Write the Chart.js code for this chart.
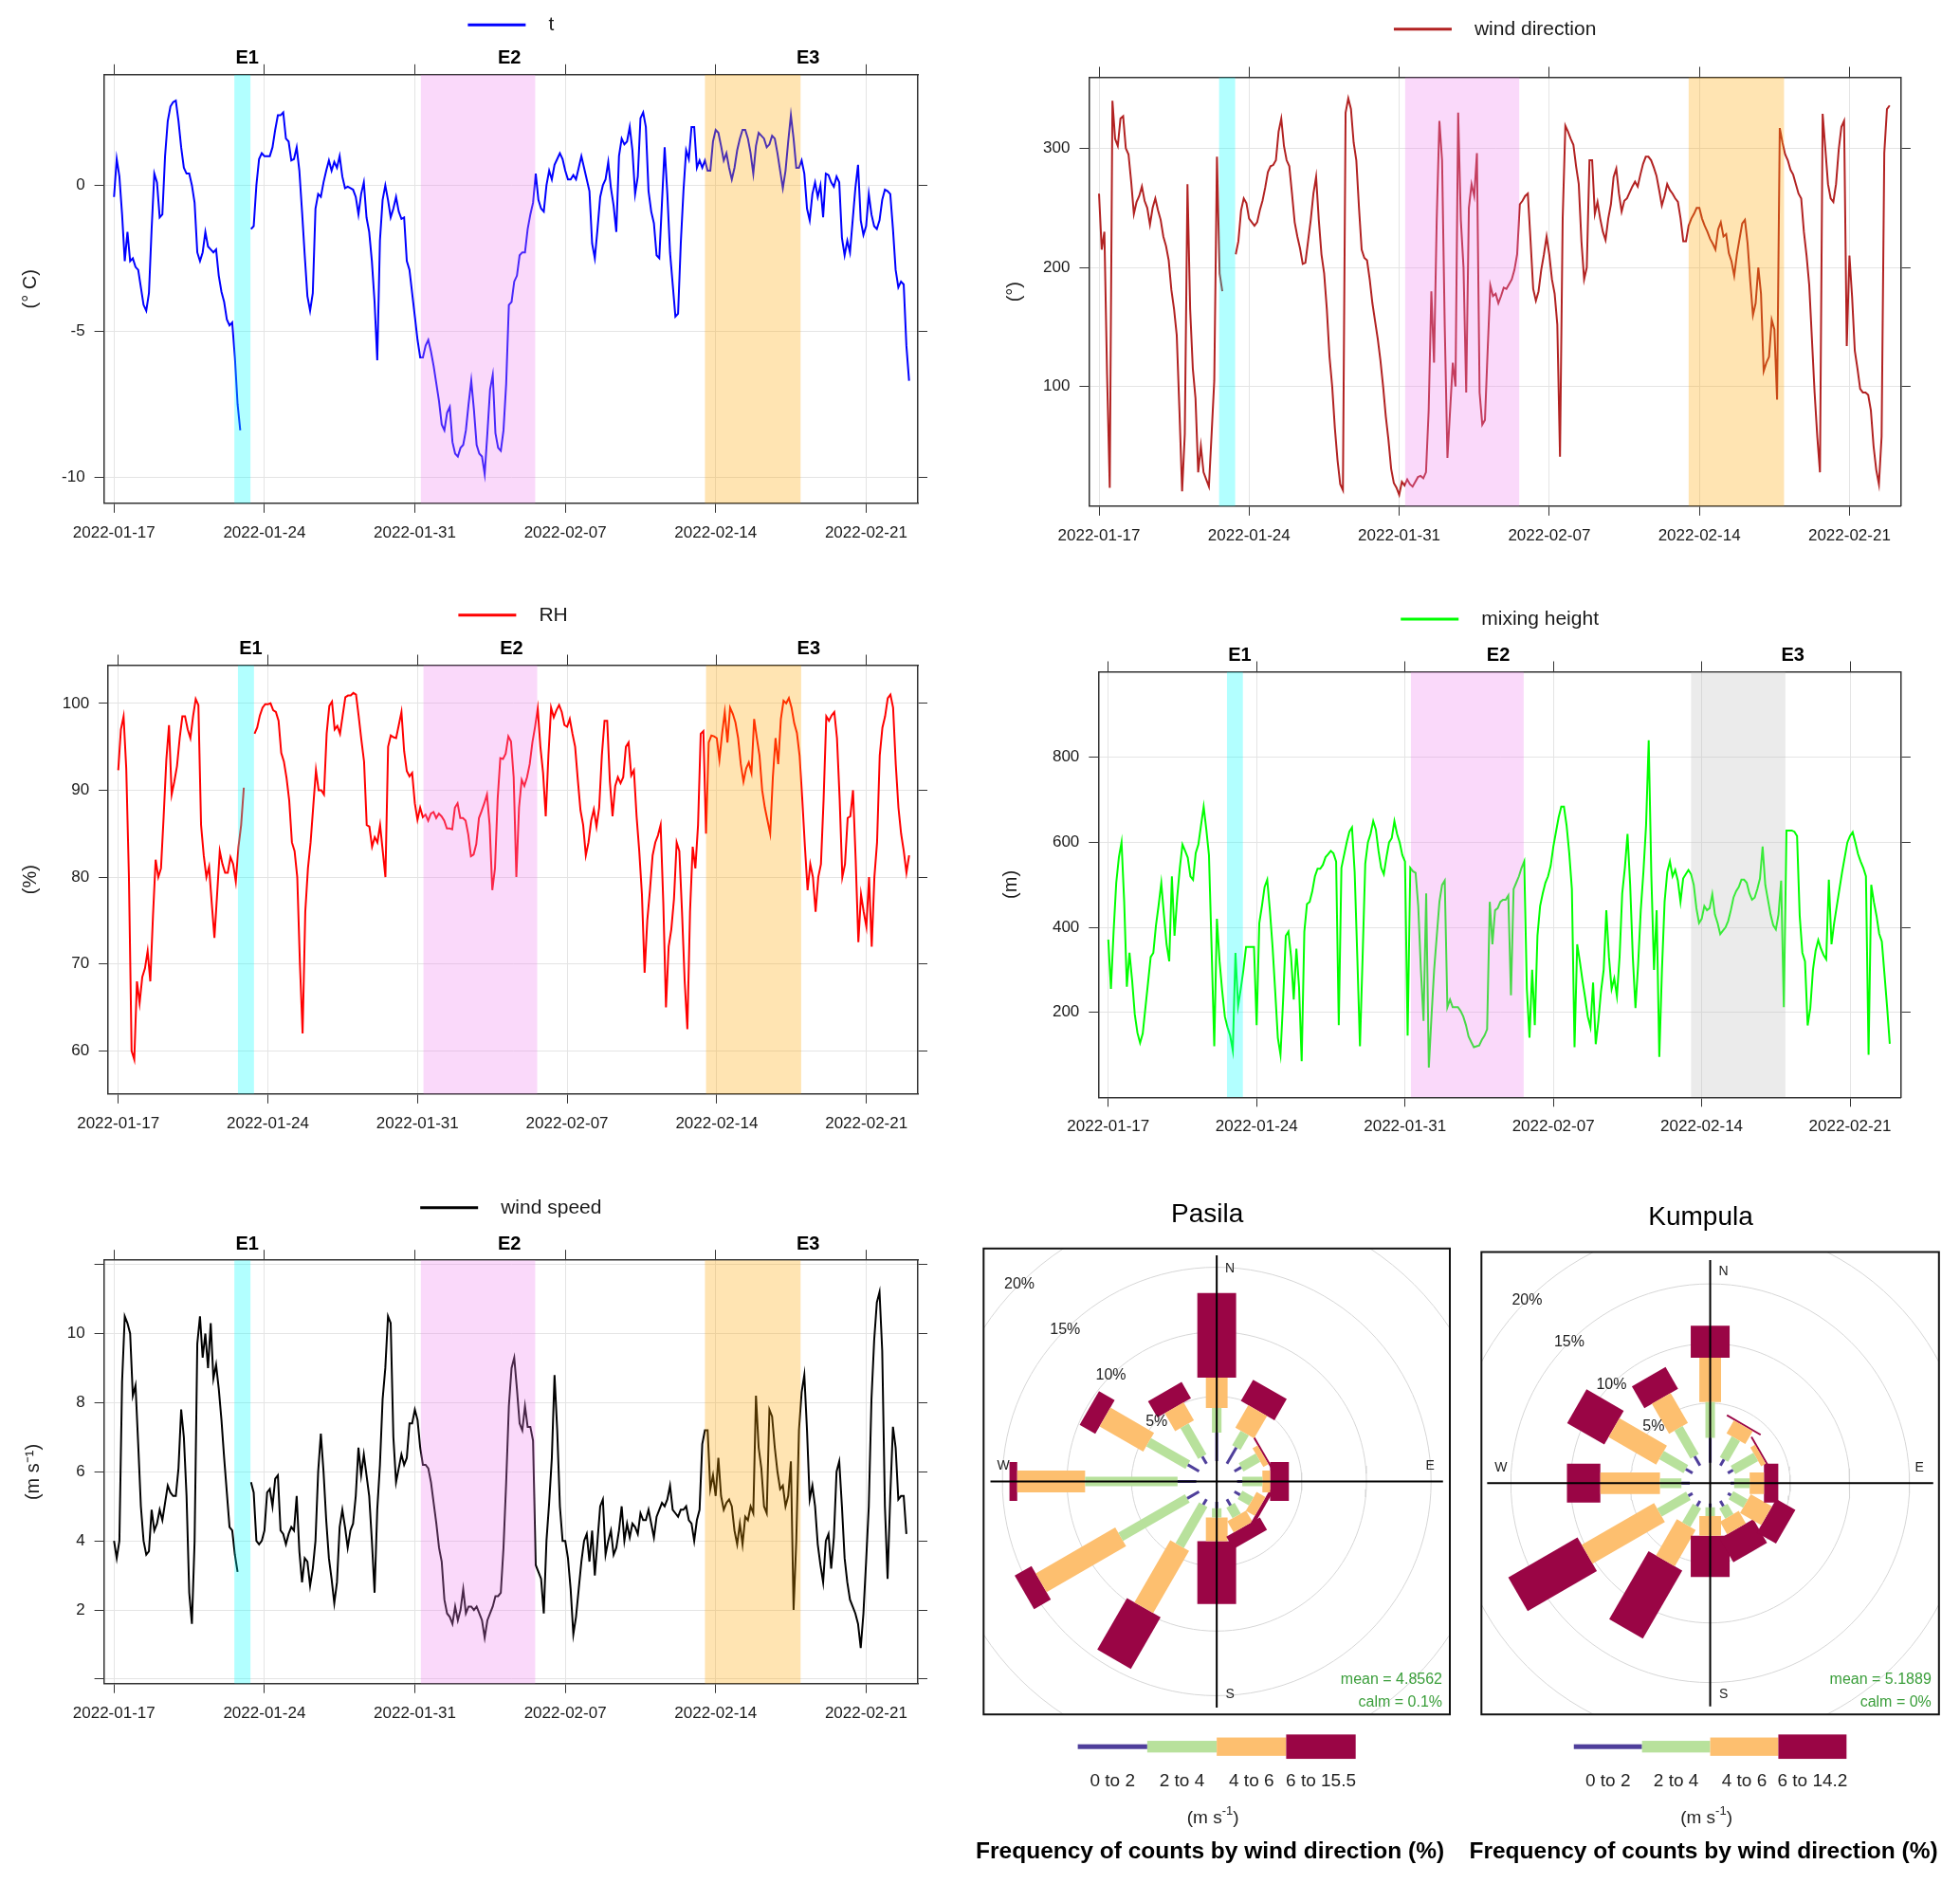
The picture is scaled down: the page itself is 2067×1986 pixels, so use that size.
<!DOCTYPE html>
<html>
<head>
<meta charset="utf-8">
<title>Meteorology during events E1-E3</title>
<script src="https://cdn.jsdelivr.net/npm/chart.js@4.4.1/dist/chart.umd.min.js"></script>
<style>
  body { margin: 0; background: #fff; width: 2067px; height: 1986px; position: relative; overflow: hidden; }
  canvas { position: absolute; }
</style>
</head>
<body>
<canvas id="pT"></canvas>
<canvas id="pWD"></canvas>
<canvas id="pRH"></canvas>
<canvas id="pMH"></canvas>
<canvas id="pWS"></canvas>
<canvas id="rosePasila"></canvas>
<canvas id="roseKumpula"></canvas>
<script>
// ---- time axis ----
const tickDays = [0, 7, 14, 21, 28, 35];
const tickLabels = ['2022-01-17', '2022-01-24', '2022-01-31', '2022-02-07', '2022-02-14', '2022-02-21'];
const sampleStepDays = 0.125; // readings every 3 h from 2022-01-17 00:00

// ---- episodes ----
const eventNames = ['E1', 'E2', 'E3'];
const eventLabelDay = [6.2, 18.4, 32.3];
const eventStartDay = [5.6, 14.28, 27.5];
const eventEndDay = [6.35, 19.6, 31.95];

// ---- series (3-hourly readings) ----
const tempC = [
  -0.4, 0.9, 0.3, -1.0, -2.6, -1.6, -2.6, -2.5,
  -2.8, -2.9, -3.5, -4.1, -4.3, -3.7, -1.5, 0.4,
  0.1, -1.1, -1.0, 1.0, 2.2, 2.7, 2.85, 2.9,
  2.2, 1.3, 0.6, 0.4, 0.4, 0.0, -0.6, -2.3,
  -2.6, -2.3, -1.6, -2.1, -2.2, -2.3, -2.2, -3.1,
  -3.65, -4.0, -4.6, -4.8, -4.7, -5.9, -7.5, -8.4,
  null, null, null, -1.5, -1.4, 0.0, 0.9, 1.1,
  1.0, 1.0, 1.0, 1.3, 1.9, 2.4, 2.4, 2.5,
  1.6, 1.5, 0.85, 0.9, 1.3, 0.5, -0.9, -2.4,
  -3.8, -4.3, -3.7, -0.8, -0.3, -0.4, 0.1, 0.5,
  0.85, 0.5, 0.8, 0.6, 1.0, 0.3, -0.1, -0.05,
  -0.1, -0.15, -0.4, -1.0, -0.3, 0.1, -1.1, -1.6,
  -2.6, -4.0, -6.0, -1.9, -0.5, 0.0, -0.5, -1.1,
  -0.8, -0.4, -0.9, -1.15, -1.1, -2.6, -2.9, -3.7,
  -4.5, -5.3, -5.9, -5.9, -5.5, -5.3, -5.7, -6.2,
  -6.8, -7.4, -8.2, -8.4, -7.8, -7.6, -8.8, -9.2,
  -9.3, -9.0, -8.9, -8.4, -7.5, -6.7, -7.7, -8.9,
  -9.2, -9.3, -9.9, -8.5, -7.0, -6.5, -8.5, -9.0,
  -9.1, -8.4, -6.8, -4.1, -4.0, -3.3, -3.1, -2.4,
  -2.3, -2.3, -1.5, -1.0, -0.6, 0.4, -0.5, -0.8,
  -0.9, 0.0, 0.5, 0.2, 0.7, 0.9, 1.1, 0.9,
  0.5, 0.2, 0.2, 0.35, 0.2, 0.6, 1.0, 0.6,
  0.2, -0.2, -2.0, -2.5, -1.5, -0.4, 0.0, 0.2,
  0.8, -0.1, -0.7, -1.6, 1.0, 1.6, 1.4, 1.5,
  2.0, 1.2, -0.3, 0.3, 2.3, 2.5, 2.0, -0.2,
  -0.9, -1.3, -2.4, -2.5, -0.6, 1.3, -0.3, -2.3,
  -3.4, -4.5, -4.4, -2.0, -0.2, 1.2, 0.9, 2.0,
  2.0, 0.6, 0.85, 0.6, 0.85, 0.5, 0.5, 1.5,
  1.9, 1.8, 1.35, 0.85, 1.1, 0.6, 0.2, 0.6,
  1.2, 1.6, 1.9, 1.9, 1.6, 1.1, 0.4, 1.35,
  1.8, 1.7, 1.6, 1.3, 1.4, 1.7, 1.6, 1.1,
  0.5, -0.1, 0.5, 1.5, 2.4, 1.6, 0.6, 0.6,
  0.85, 0.4, -0.8, -1.2, -0.3, 0.1, -0.4, 0.0,
  -1.1, 0.4, 0.35, 0.1, -0.05, 0.3, 0.1, -1.8,
  -2.4, -1.9, -2.3, -1.2, -0.1, 0.7, -1.2, -1.7,
  -1.4, -0.3, -1.0, -1.4, -1.5, -1.2, -0.5, -0.15,
  -0.2, -0.3, -1.5, -2.9, -3.5, -3.3, -3.4, -5.5, -6.7
];

const windDir = [
  262, 215, 230, 110, 15, 340, 308, 302,
  325, 327, 300, 295, 272, 245, 255, 260,
  268, 256, 250, 236, 250, 258, 248, 240,
  226, 218, 206, 181, 165, 143, 80, 12,
  60, 270, 165, 115, 90, 28, 50, 28,
  22, 16, 60, 105, 293, 195, 180, null,
  null, null, null, 211, 222, 248, 258, 254,
  241, 238, 235, 238, 248, 256, 267, 280,
  285, 286, 290, 314, 325, 302, 290, 285,
  262, 238, 226, 216, 203, 204, 222, 240,
  262, 276, 240, 211, 195, 165, 125, 100,
  65, 38, 18, 13, 330, 342, 333, 305,
  290, 250, 215, 208, 206, 190, 170, 155,
  140, 122, 100, 75, 55, 31, 19, 15,
  9, 20, 17, 22, 18, 16, 20, 24,
  25, 23, 28, 80, 180, 120, 240, 323,
  290, 150, 40, 80, 120, 100, 330, 240,
  200, 95, 250, 270, 260, 296, 95, 68,
  72, 130, 185, 176, 178, 170, 176, 183,
  182, 186, 190, 198, 211, 253, 256, 260,
  262, 223, 182, 172, 180, 198, 211, 226,
  211, 190, 178, 152, 41, 241, 319, 314,
  308, 303, 285, 270, 222, 190, 200, 290,
  290, 245, 255, 241, 230, 223, 241, 253,
  276, 283, 262, 247, 256, 258, 263, 268,
  272, 268, 278, 287, 293, 293, 290, 284,
  277, 265, 252, 260, 270, 265, 262, 258,
  255, 241, 222, 222, 235, 241, 245, 250,
  250, 241, 235, 230, 224, 220, 215, 232,
  238, 226, 228, 212, 205, 193, 211, 224,
  237, 240, 220, 188, 160, 170, 200, 178,
  113, 120, 125, 156, 148, 89, 317, 305,
  295, 290, 282, 278, 270, 262, 258, 230,
  210, 185, 140, 95, 58, 28, 329, 300,
  270, 258, 255, 270, 299, 318, 323, 134,
  210, 175, 130, 115, 98, 95, 95, 93,
  80, 50, 30, 18, 58, 296, 333, 336
];

const relHum = [
  92.3, 97, 98.5, 92.5, 80, 60, 59, 68,
  65.5, 68.5, 69.5, 71.5, 68, 75.5, 82, 80,
  81, 87, 93.5, 97.5, 89.5, 91, 92.8, 96,
  98.5, 98.5, 97, 96, 98.5, 100.5, 99.8, 86,
  82.5, 80, 81.2, 77, 73, 78, 83, 81.5,
  80.5, 80.5, 82.3, 81.5, 79.5, 83.5, 86, 90.3,
  null, null, null, 96.5, 97.2, 98.6, 99.5, 99.9,
  99.9, 100, 99.2, 99, 98, 94.3, 93.3, 91.4,
  88.8, 84, 83, 80, 70, 62, 76, 81,
  84, 88.2, 92.3, 90, 90, 89.5, 96.5, 99.7,
  100.2, 97, 97.4, 96.5, 98.6, 100.7, 100.9, 100.9,
  101.2, 101, 98.5, 95.8, 93.3, 86, 85.8, 83.5,
  84.6, 84, 86, 83, 80, 95, 96.3, 96.1,
  96, 97.5, 99, 94.5, 92.2, 91.6, 92, 88.5,
  86.6, 88, 86.9, 87.2, 86.5, 87.3, 87.5, 86.8,
  87.3, 87, 86.5, 85.6, 85.6, 85.5, 88, 88.5,
  86.8, 86.8, 86.5, 84.9, 82.4, 82.6, 83.8, 86.8,
  87.6, 88.5, 89.5, 86, 78.5, 81, 89, 93.7,
  93.6, 94.2, 96.2, 95.6, 91.5, 80, 88, 91.2,
  90.5, 91.5, 93, 95.5, 97.3, 99.4, 95, 92,
  87, 94, 99.5, 98.4, 99.2, 99.8, 99, 97.5,
  97.3, 98.2, 96.5, 95, 91.2, 87.7, 86, 82.5,
  84, 86.5, 87.8, 85.8, 88, 94, 98, 98,
  91, 87, 90.5, 91.5, 90.8, 91.5, 95, 95.5,
  91.7, 92.3, 87, 83, 78, 69, 75, 78.5,
  82.5, 84, 84.8, 86, 77, 65, 72, 74,
  77.5, 84, 83, 76, 68, 62.5, 76, 83.5,
  81, 86, 96.5, 96.8, 85, 95.5, 96.3, 96.2,
  96, 93.5, 96.5, 99, 95.5, 99.5, 98.8, 97.8,
  96, 93, 91, 92.5, 93.2, 92, 98.2, 96,
  94, 90, 88, 86.5, 85, 91.5, 96, 93,
  98.2, 100.3, 100, 100.6, 99.5, 97.7, 96.6, 94,
  89, 83.5, 78.5, 81.5, 80, 76, 80, 81.5,
  89, 98.5, 98, 98.6, 99, 96, 89, 80,
  81.5, 86.8, 87, 90, 82, 72.5, 78, 76,
  74.3, 80, 72, 80, 84, 94, 97.2, 98.5,
  100.6, 101, 99.5, 93, 88, 85, 83, 80.5, 82.5
];

const mixHeight = [
  371, 255, 390, 505, 565, 600, 460, 260,
  340, 275, 195, 152, 128, 150, 210, 270,
  330, 340, 405, 452, 504, 430, 360, 320,
  520, 380, 470, 540, 595, 580, 564, 520,
  512, 575, 595, 640, 684, 630, 570, 350,
  120, 420, 320, 250, 190, 165, 145, 110,
  340, 215, 255, 300, 354, 354, 354, 354,
  170, 410, 450, 495, 512, 440, 355, 250,
  140, 100, 230, 380, 390, 330, 230, 350,
  260, 85, 390, 455, 460, 485, 520, 538,
  538, 547, 565, 572, 580, 574, 555, 170,
  540, 570, 600, 625, 635, 530, 330, 120,
  330, 550, 600, 620, 650, 630, 580, 540,
  525, 565, 600, 610, 650, 620, 600, 570,
  555, 145, 540, 532, 528, 450, 300, 180,
  480, 70, 190, 300, 380, 460, 500, 510,
  212, 230, 212, 212, 212, 203, 190, 170,
  143, 130, 118, 120, 122, 135, 145, 160,
  460, 360, 440, 445, 460, 465, 465, 475,
  240, 490, 505, 520, 540, 555, 255, 140,
  300, 170, 380, 450, 480, 505, 520, 545,
  590, 625, 659, 684, 684, 640, 575, 490,
  118, 360, 320, 275, 235, 190, 165, 270,
  125, 180, 250, 300, 440, 330, 255, 280,
  238, 330, 480, 540, 620, 500, 330, 210,
  312, 440, 530, 640, 840, 520, 300, 440,
  95, 300, 460, 530, 555, 520, 535, 510,
  460, 515, 525, 535, 525, 500, 445, 410,
  420, 450, 440, 445, 478, 430, 410, 384,
  392, 400, 415, 440, 470, 485, 495, 512,
  512, 505, 480, 465, 470, 490, 515, 590,
  500, 465, 430, 405, 395, 430, 510, 212,
  628, 628, 628, 625, 615, 427, 340, 320,
  169, 210, 300, 345, 370, 350, 335, 325,
  512, 360, 410, 450, 490, 530, 565, 600,
  615, 624, 600, 573, 555, 540, 520, 100,
  500, 460, 427, 385, 367, 290, 212, 126
];

const windSpeed = [
  4.0, 3.5, 4.0, 8.6, 10.5, 10.3, 10.0, 8.2,
  8.5, 6.8, 5.0, 4.0, 3.6, 3.7, 4.9, 4.3,
  4.5, 4.9, 4.6, 5.1, 5.6, 5.4, 5.3, 5.3,
  6.1, 7.8, 7.0, 5.3, 2.5, 1.6, 4.0, 9.7,
  10.5, 9.3, 10.0, 9.0, 10.3, 8.7, 9.1, 8.4,
  7.5, 6.4, 5.4, 4.4, 4.3, 3.6, 3.1, null,
  null, null, null, 5.7, 5.4, 4.0, 3.9, 4.0,
  4.3, 5.4, 5.5, 5.0, 5.8, 5.9, 4.3, 4.2,
  3.9, 4.2, 4.4, 4.3, 5.3, 3.7, 2.8, 3.5,
  3.4, 2.7, 3.2, 4.0, 6.0, 7.1, 6.0, 4.6,
  3.5, 2.9, 2.2, 2.8, 4.4, 4.9, 4.4, 3.8,
  4.3, 4.5, 5.3, 6.7, 5.9, 6.5, 5.9, 5.3,
  4.0, 2.5, 4.9, 6.2, 8.1, 9.0, 10.5, 10.3,
  7.0, 5.7, 6.1, 6.5, 6.2, 6.4, 7.4, 7.4,
  7.8, 7.5, 6.7, 6.2, 6.2, 6.1, 5.7, 5.1,
  4.5, 3.8, 3.4, 2.3, 1.9, 1.8, 1.6, 2.1,
  1.7, 2.0, 2.6, 1.9, 2.1, 2.1, 2.0, 2.1,
  1.9, 1.7, 1.2, 1.7, 1.9, 2.1, 2.4, 2.4,
  2.5, 3.8, 5.7, 7.9, 9.0, 9.3, 8.4, 7.4,
  7.2, 7.9, 7.3, 7.3, 6.9, 3.3, 3.1, 2.9,
  1.9, 4.0, 5.1, 6.4, 8.8, 7.2, 5.0, 4.0,
  4.0, 3.5, 2.6, 1.3, 1.8, 2.6, 3.4, 4.0,
  4.2, 3.4, 4.3, 3.0, 4.0, 5.0, 5.2, 3.6,
  4.0, 4.3, 3.6, 3.8, 4.3, 5.0, 4.0, 4.5,
  4.1, 4.5, 4.4, 4.2, 4.8, 4.6, 4.6, 4.9,
  4.5, 4.1, 4.7, 4.9, 5.1, 5.0, 5.2, 5.6,
  4.9, 4.8, 4.7, 4.9, 4.9, 5.0, 4.6, 4.5,
  4.0, 4.6, 4.9, 6.8, 7.2, 7.2, 5.5, 5.9,
  5.3, 6.4, 5.3, 4.9, 5.1, 5.2, 5.0, 4.3,
  3.9, 4.5, 3.9, 4.7, 4.6, 5.0, 4.8, 8.2,
  6.7, 6.1, 5.0, 4.8, 7.8, 7.6, 6.7, 6.0,
  5.5, 5.6, 5.0, 5.3, 6.3, 2.0, 4.0, 7.2,
  8.3, 8.8, 7.2, 5.2, 5.6, 5.0, 3.9, 3.3,
  2.8, 4.0, 4.2, 3.2, 4.1, 6.0, 6.3, 5.0,
  3.5, 2.8, 2.3, 2.1, 1.9, 1.6, 0.9, 1.9,
  3.4, 5.0, 8.1, 9.8, 10.9, 11.2, 9.5, 5.0,
  2.9, 5.3, 7.3, 6.7, 5.2, 5.3, 5.3, 4.2
];

// ---- wind roses: % of counts per direction sector and speed class ----
const roseDirs = [0, 30, 60, 90, 120, 150, 180, 210, 240, 270, 300, 330];
const ringPercents = [5, 10, 15, 20];
const pasilaBinLabels = ['0 to 2', '2 to 4', '4 to 6', '6 to 15.5'];
const kumpulaBinLabels = ['0 to 2', '2 to 4', '4 to 6', '6 to 14.2'];
const pasila0to2 = [2.2, 1.45, 0.6, 0.4, 0.5, 0.55, 0.5, 0.5, 1.05, 1.45, 1.0, 0.65];
const pasila2to4 = [1.9, 1.3, 1.5, 1.55, 1.0, 0.95, 0.7, 3.65, 5.95, 7.15, 3.5, 2.75];
const pasila4to6 = [2.35, 2.0, 0.45, 0.6, 0.8, 1.0, 1.85, 5.55, 7.1, 5.25, 3.9, 1.6];
const pasila6up = [6.55, 1.9, 0.15, 1.45, 0.3, 1.1, 4.85, 4.6, 1.5, 0.6, 1.4, 1.45];
const kumpula0to2 = [2.1, 0.6, 0.5, 0.3, 0.3, 0.5, 0.3, 0.5, 0.4, 0.7, 0.65, 0.9];
const kumpula2to4 = [3.0, 2.0, 2.2, 1.3, 1.4, 1.0, 0.75, 1.8, 2.8, 1.8, 2.35, 2.7];
const kumpula4to6 = [3.7, 1.25, 0.45, 1.2, 2.05, 1.2, 1.65, 3.5, 7.0, 5.0, 4.6, 2.9];
const kumpula6up = [2.7, 0.15, 0.15, 1.2, 1.85, 2.3, 3.45, 6.6, 6.7, 2.8, 3.6, 2.1];
const pasilaMean = '4.8562', pasilaCalm = '0.1%';
const kumpulaMean = '5.1889', kumpulaCalm = '0%';

// ---- styling ----
const FONT = '"Liberation Sans", Arial, Helvetica, sans-serif';
const TXT = '#1a1a1a';
const AXIS = '#333333';
const GRID = '#e4e4e4';
const X_MIN = -0.47, X_MAX = 37.41;
const bandsColour = ['rgba(0,255,255,0.3)', 'rgba(238,130,238,0.3)', 'rgba(255,165,0,0.3)'];
const bandsGrey = ['rgba(0,255,255,0.3)', 'rgba(238,130,238,0.3)', 'rgba(190,190,190,0.3)'];
const binColours = ['#4f3f9b', '#b8e19c', '#fdbf6f', '#9a0545'];

Chart.defaults.font.family = FONT;
Chart.defaults.color = TXT;

function place(cv, l, t, w, h) {
  cv.width = w; cv.height = h;
  cv.style.left = l + 'px'; cv.style.top = t + 'px';
  cv.style.width = w + 'px'; cv.style.height = h + 'px';
}

// translucent episode shading, drawn over the line as in the original
const bandPlugin = {
  id: 'eventBands',
  afterDatasetsDraw(chart, args, opts) {
    const { ctx, chartArea: a, scales: { x } } = chart;
    ctx.save();
    ctx.beginPath(); ctx.rect(a.left, a.top, a.width, a.height); ctx.clip();
    eventStartDay.forEach((s, k) => {
      const x0 = x.getPixelForValue(s), x1 = x.getPixelForValue(eventEndDay[k]);
      ctx.fillStyle = opts.colors[k];
      ctx.fillRect(x0, a.top, x1 - x0, a.height);
    });
    ctx.restore();
  }
};

// single-entry key above each panel
const keyPlugin = {
  id: 'seriesKey',
  afterDraw(chart, args, opts) {
    const { ctx, chartArea: a } = chart;
    const ds = chart.data.datasets[0];
    ctx.save();
    ctx.font = '21px ' + FONT;
    const tw = ctx.measureText(ds.label).width;
    const x0 = (a.left + a.right) / 2 - (61 + 24 + tw) / 2;
    const y = a.top - opts.dy;
    ctx.strokeStyle = ds.borderColor; ctx.lineWidth = 3;
    ctx.beginPath(); ctx.moveTo(x0, y); ctx.lineTo(x0 + 61, y); ctx.stroke();
    ctx.fillStyle = TXT; ctx.textBaseline = 'middle'; ctx.textAlign = 'left';
    ctx.fillText(ds.label, x0 + 85, y);
    ctx.restore();
  }
};

const seriesPanels = [
  { id: 'pT', canvas: [0, 0, 1000, 600], area: [109.6, 78.8, 968, 530.8], values: tempC, color: '#0000ff',
    label: 't', yTitle: '(° C)', yMin: -10.9, yMax: 3.79, yTicks: [-10, -5, 0], titlePad: 20, dy: 52.6, events: true, bands: bandsColour },
  { id: 'pWD', canvas: [1030, 0, 1037, 600], area: [1148.4, 81.5, 2004.9, 533.8], values: windDir, color: '#b22222',
    label: 'wind direction', yTitle: '(°)', yMin: -0.4, yMax: 359.7, yTicks: [100, 200, 300], titlePad: 28, dy: 50.7, events: false, bands: bandsColour },
  { id: 'pRH', canvas: [0, 620, 1000, 600], area: [114.1, 701.5, 968, 1153.8], values: relHum, color: '#ff0000',
    label: 'RH', yTitle: '(%)', yMin: 55.04, yMax: 104.4, yTicks: [60, 70, 80, 90, 100], titlePad: 20, dy: 52.7, events: true, bands: bandsColour },
  { id: 'pMH', canvas: [1030, 620, 1037, 600], area: [1158.3, 708.5, 2004.9, 1157.3], values: mixHeight, color: '#00ff00',
    label: 'mixing height', yTitle: '(m)', yMin: 0, yMax: 1001.5, yTicks: [200, 400, 600, 800], titlePad: 24.6, dy: 55.5, events: true, bands: bandsGrey },
  { id: 'pWS', canvas: [0, 1240, 1000, 600], area: [109.6, 1329.2, 968, 1775.7], values: windSpeed, color: '#000000',
    label: 'wind speed', yTitle: '(m s⁻¹)', yMin: -0.13, yMax: 12.12, yTicks: [0, 2, 4, 6, 8, 10, 12], yShown: [2, 4, 6, 8, 10],
    titlePad: 23, dy: 55.4, events: true, bands: bandsColour }
];

function seriesChart(p) {
  const cv = document.getElementById(p.id);
  const [cl, ct, cw, ch] = p.canvas;
  const [al, at, ar, ab] = p.area;
  place(cv, cl, ct, cw, ch);
  const pts = p.values.map((v, i) => ({ x: i * sampleStepDays, y: v }));
  const topTicks = (p.events ? tickDays.concat(eventLabelDay) : tickDays.slice()).sort((a, b) => a - b);
  const isLabelTick = ctx => ctx.tick && eventLabelDay.includes(ctx.tick.value);
  return new Chart(cv, {
    type: 'line',
    data: { datasets: [{ label: p.label, data: pts, borderColor: p.color, borderWidth: 2, pointRadius: 0,
      tension: 0, spanGaps: false, fill: false }] },
    options: {
      responsive: false, animation: false, devicePixelRatio: 1, events: [],
      layout: { padding: 0 },
      plugins: { legend: { display: false }, tooltip: { enabled: false },
        eventBands: { colors: p.bands }, seriesKey: { dy: p.dy } },
      scales: {
        x: { type: 'linear', position: 'bottom', min: X_MIN, max: X_MAX,
          afterBuildTicks: ax => { ax.ticks = tickDays.map(v => ({ value: v })); },
          afterFit: s => { s.height = ct + ch - ab; },
          ticks: { autoSkip: false, maxRotation: 0, padding: 11, color: TXT, font: { size: 17 },
            callback: v => { const k = tickDays.indexOf(v); return k >= 0 ? tickLabels[k] : ''; } },
          grid: { color: GRID, lineWidth: 1, tickColor: AXIS, tickLength: 10 },
          border: { color: AXIS, width: 1.5 } },
        x2: { type: 'linear', position: 'top', min: X_MIN, max: X_MAX,
          afterBuildTicks: ax => { ax.ticks = topTicks.map(v => ({ value: v })); },
          afterFit: s => { s.height = at - ct; },
          ticks: { autoSkip: false, maxRotation: 0, padding: -6, color: '#000', font: { size: 20, weight: 'bold' },
            callback: v => { const k = eventLabelDay.indexOf(v); return (p.events && k >= 0) ? eventNames[k] : ''; } },
          grid: { drawOnChartArea: false, tickLength: 11, tickColor: ctx => isLabelTick(ctx) ? 'rgba(0,0,0,0)' : AXIS },
          border: { color: AXIS, width: 1.5 } },
        y: { position: 'left', min: p.yMin, max: p.yMax,
          afterBuildTicks: ax => { ax.ticks = p.yTicks.map(v => ({ value: v })); },
          afterFit: s => { s.width = al - cl; },
          ticks: { padding: 10, color: TXT, font: { size: 17 },
            callback: v => (p.yShown && !p.yShown.includes(v)) ? '' : String(v) },
          grid: { color: GRID, lineWidth: 1, tickColor: AXIS, tickLength: 10 },
          border: { color: AXIS, width: 1.5 },
          title: { display: true, text: p.yTitle, color: TXT, font: { size: 20 }, padding: { top: p.titlePad, bottom: 0 } } },
        y2: { position: 'right', min: p.yMin, max: p.yMax,
          afterBuildTicks: ax => { ax.ticks = p.yTicks.map(v => ({ value: v })); },
          afterFit: s => { s.width = cl + cw - ar; },
          ticks: { display: false },
          grid: { drawOnChartArea: false, tickColor: AXIS, tickLength: 10 },
          border: { color: AXIS, width: 1.5 } }
      }
    },
    plugins: [bandPlugin, keyPlugin]
  });
}

seriesPanels.forEach(seriesChart);

// ---- wind rose ----
function drawUnit(ctx, cx, cy) {
  const big = '19px ' + FONT, small = '13px ' + FONT;
  ctx.font = big;
  const w1 = ctx.measureText('(m s').width, w3 = ctx.measureText(')').width;
  ctx.font = small;
  const w2 = ctx.measureText('-1').width;
  let x = cx - (w1 + w2 + w3) / 2;
  ctx.textAlign = 'left';
  ctx.font = big; ctx.fillText('(m s', x, cy); x += w1;
  ctx.font = small; ctx.fillText('-1', x, cy - 8); x += w2;
  ctx.font = big; ctx.fillText(')', x, cy);
}

const roseDecor = {
  id: 'roseDecor',
  afterDraw(chart, args, o) {
    const { ctx, chartArea: a, scales: { x, y } } = chart;
    const cx = x.getPixelForValue(0), cy = y.getPixelForValue(0);
    const mid = (a.left + a.right) / 2;
    ctx.save();
    ctx.strokeStyle = '#111'; ctx.lineWidth = 2;
    ctx.strokeRect(a.left, a.top, a.width, a.height);
    ctx.textAlign = 'center'; ctx.textBaseline = 'middle';
    ctx.fillStyle = '#222'; ctx.font = '16px ' + FONT;
    ringPercents.forEach(p => {
      const r = o.offset + p;
      ctx.fillText(p + '%', x.getPixelForValue(-r * Math.SQRT1_2), y.getPixelForValue(r * Math.SQRT1_2));
    });
    ctx.font = '14px ' + FONT;
    const kx = x.max * 0.915, ky = y.max * 0.915;
    ctx.fillText('N', cx + 14, y.getPixelForValue(ky));
    ctx.fillText('S', cx + 14, y.getPixelForValue(-ky));
    ctx.fillText('E', x.getPixelForValue(kx), cy - 16);
    ctx.fillText('W', x.getPixelForValue(-kx), cy - 16);
    ctx.fillStyle = '#3a9e3a'; ctx.font = '16px ' + FONT; ctx.textAlign = 'right';
    ctx.fillText('mean = ' + o.mean, a.right - 8, a.bottom - 37);
    ctx.fillText('calm = ' + o.calm, a.right - 8, a.bottom - 13);
    ctx.textAlign = 'center'; ctx.fillStyle = '#000'; ctx.font = '28px ' + FONT;
    ctx.fillText(o.title, mid - 10, a.top - 36);
    const seg = a.width * 0.149, k0 = mid - 2 * seg, kh = [5, 12.3, 19.3, 25.7];
    binColours.forEach((c, k) => {
      ctx.fillStyle = c;
      ctx.fillRect(k0 + k * seg, a.bottom + 34 - kh[k] / 2, seg, kh[k]);
    });
    ctx.fillStyle = '#222'; ctx.font = '19px ' + FONT;
    o.binLabels.forEach((lab, k) => ctx.fillText(lab, k0 + (k + 0.5) * seg, a.bottom + 71));
    drawUnit(ctx, mid - 4, a.bottom + 110);
    ctx.textAlign = 'center'; ctx.fillStyle = '#000'; ctx.font = 'bold 24.5px ' + FONT;
    ctx.fillText('Frequency of counts by wind direction (%)', mid - 7, a.bottom + 145);
    ctx.restore();
  }
};

function roseChart(r) {
  const cv = document.getElementById(r.id);
  place(cv, r.canvas[0], r.canvas[1], r.canvas[2], r.canvas[3]);
  const off = r.offset;
  const datasets = [];
  ringPercents.forEach(p => {
    const rad = off + p, pts = [];
    for (let a = 0; a <= 360; a += 3) {
      const t = a * Math.PI / 180;
      pts.push({ x: rad * Math.sin(t), y: rad * Math.cos(t) });
    }
    datasets.push({ data: pts, borderColor: '#d6d6d6', borderWidth: 1, pointRadius: 0, fill: false, order: 2 });
  });
  roseDirs.forEach((d, i) => {
    const t = d * Math.PI / 180, s = Math.sin(t), c = Math.cos(t);
    let cum = 0;
    r.bins.forEach((bin, k) => {
      const len1 = off + cum;
      cum += bin[i];
      const len2 = off + cum, w = r.halfWidth[k];
      const pts = [
        { x: len1 * s - w * c, y: len1 * c + w * s },
        { x: len1 * s + w * c, y: len1 * c - w * s },
        { x: len2 * s + w * c, y: len2 * c - w * s },
        { x: len2 * s - w * c, y: len2 * c + w * s }
      ];
      pts.push(pts[0]);
      datasets.push({ data: pts, borderColor: 'rgba(0,0,0,0)', borderWidth: 1, backgroundColor: binColours[k],
        fill: 'shape', pointRadius: 0, tension: 0, order: 1 });
    });
  });
  const L = r.cross;
  datasets.push({ data: [{ x: 0, y: -L }, { x: 0, y: L }], borderColor: '#000', borderWidth: 2, pointRadius: 0, fill: false, order: 0 });
  datasets.push({ data: [{ x: -L, y: 0 }, { x: L, y: 0 }], borderColor: '#000', borderWidth: 2, pointRadius: 0, fill: false, order: 0 });
  return new Chart(cv, {
    type: 'line',
    data: { datasets },
    options: {
      responsive: false, animation: false, devicePixelRatio: 1, events: [],
      layout: { padding: r.padding },
      plugins: { legend: { display: false }, tooltip: { enabled: false },
        roseDecor: { offset: off, title: r.title, mean: r.mean, calm: r.calm, binLabels: r.binLabels } },
      scales: {
        x: { type: 'linear', display: false, min: -r.xr, max: r.xr },
        y: { type: 'linear', display: false, min: -r.yr, max: r.yr }
      }
    },
    plugins: [roseDecor]
  });
}

roseChart({ id: 'rosePasila', canvas: [1000, 1255, 545, 731], padding: { left: 37.3, top: 61.8, right: 16, bottom: 177.8 },
  xr: 18.03, yr: 18.03, offset: 1.58, cross: 17.5, halfWidth: [0.11, 0.37, 0.84, 1.5],
  bins: [pasila0to2, pasila2to4, pasila4to6, pasila6up], binLabels: pasilaBinLabels,
  title: 'Pasila', mean: pasilaMean, calm: pasilaCalm });
roseChart({ id: 'roseKumpula', canvas: [1520, 1255, 547, 731], padding: { left: 42.3, top: 65.5, right: 22.2, bottom: 177.8 },
  xr: 19.18, yr: 19.38, offset: 1.71, cross: 18.7, halfWidth: [0.12, 0.4, 0.91, 1.63],
  bins: [kumpula0to2, kumpula2to4, kumpula4to6, kumpula6up], binLabels: kumpulaBinLabels,
  title: 'Kumpula', mean: kumpulaMean, calm: kumpulaCalm });
</script>
</body>
</html>
